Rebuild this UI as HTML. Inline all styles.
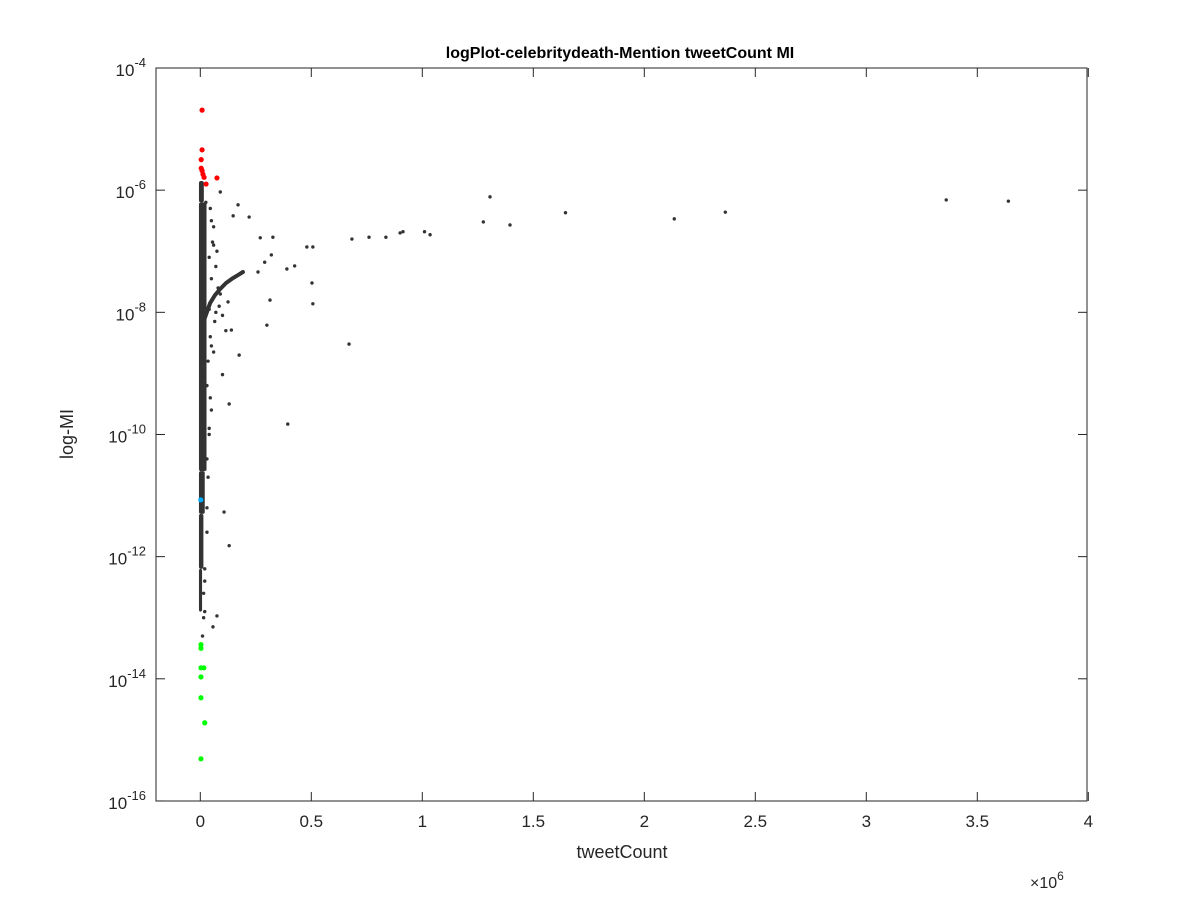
<!DOCTYPE html>
<html><head><meta charset="utf-8"><style>
body{margin:0;background:#fff}
svg{font-family:"Liberation Sans",sans-serif}
</style></head><body>
<svg width="1200" height="900" xmlns="http://www.w3.org/2000/svg">
<rect x="0" y="0" width="1200" height="900" fill="#fff"/>
<g id="plot"></g>
<text x="620" y="58" text-anchor="middle" font-size="16" font-weight="bold" fill="#000">logPlot-celebritydeath-Mention tweetCount MI</text>
<text x="622" y="858" text-anchor="middle" font-size="18" fill="#262626">tweetCount</text>
<text transform="translate(73,434) rotate(-90)" text-anchor="middle" font-size="18" fill="#262626">log-MI</text>
<text x="1030" y="888" font-size="16" fill="#262626">×10<tspan dy="-8" font-size="12">6</tspan></text>
</svg>
<script>
const xTicks=[0,0.5,1,1.5,2,2.5,3,3.5,4];
const xTickLabels=["0","0.5","1","1.5","2","2.5","3","3.5","4"];
const yTicks=[-4,-6,-8,-10,-12,-14,-16];
const redX=[0.008,0.008,0.004,0.004,0.008,0.012,0.017,0.075,0.026];
const redY=[-4.69,-5.34,-5.5,-5.64,-5.68,-5.74,-5.79,-5.8,-5.9];
const blueX=[0.002];
const blueY=[-11.07];
const greenX=[0.003,0.003,0.003,0.016,0.003,0.003,0.02,0.003];
const greenY=[-13.44,-13.5,-13.82,-13.82,-13.97,-14.31,-14.72,-15.31];
const blackX=[1.305,3.64,3.36,2.365,2.135,1.645,1.275,1.395,1.01,1.035,0.9,0.913,0.836,0.76,0.683,0.48,0.507,0.425,0.39,0.503,0.507,0.67,0.394,0.30,0.314,0.27,0.17,0.09,0.22,0.148,0.327,0.32,0.29,0.26,0.13,0.1,0.107,0.13,0.057,0.075,0.125,0.14,0.175,0.05,0.06,0.04,0.07,0.045,0.035,0.03,0.08,0.05,0.04,0.03,0.025,0.03,0.02,0.015,0.02,0.015,0.01,0.02,0.06,0.075,0.09,0.1,0.115,0.05,0.065,0.085,0.045,0.055,0.07,0.04,0.06,0.035,0.05,0.03,0.045,0.04];
const blackY=[-6.11,-6.18,-6.16,-6.36,-6.47,-6.37,-6.52,-6.57,-6.68,-6.73,-6.70,-6.68,-6.77,-6.77,-6.80,-6.93,-6.93,-7.24,-7.29,-7.52,-7.86,-8.52,-9.83,-8.21,-7.80,-6.78,-6.24,-6.03,-6.44,-6.42,-6.77,-7.06,-7.18,-7.34,-9.5,-9.02,-11.27,-11.82,-13.15,-12.97,-7.83,-8.29,-8.70,-6.5,-6.9,-7.1,-8.0,-8.4,-8.8,-9.2,-7.6,-9.6,-10.0,-10.4,-6.2,-11.6,-12.2,-12.6,-12.9,-13.0,-13.3,-12.4,-6.6,-7.0,-7.7,-8.05,-8.3,-8.55,-8.15,-7.9,-9.4,-6.85,-7.25,-9.9,-8.65,-10.7,-7.45,-11.2,-6.3,-7.95];
const arcX=[0.01,0.044,0.066,0.089,0.116,0.143,0.17,0.192];
const arcY=[-8.2,-7.85,-7.72,-7.62,-7.52,-7.45,-7.39,-7.34];
const bandTop=[-5.85,-6.2,-10.6,-11.3,-12.2];
const bandBottom=[-6.2,-10.6,-11.3,-12.2,-12.9];
const bandWidth=[0.022,0.034,0.026,0.02,0.014];

const L=156,R=1087,T=68,B=801;
const X=v=>200.3+v*222;
const Y=v=>T+(-4-v)*61.08;
const NS="http://www.w3.org/2000/svg";
const g=document.getElementById('plot');
function mk(t,a){const e=document.createElementNS(NS,t);for(const k in a)e.setAttribute(k,a[k]);g.appendChild(e);return e;}
for(let i=0;i<bandTop.length;i++){
 const e=mk('rect',{x:X(-0.006),y:Y(bandTop[i]),width:X(bandWidth[i])-X(0),height:Y(bandBottom[i])-Y(bandTop[i]),fill:'#333',rx:2});
 
 
}
const arc=mk('polyline',{points:arcX.map((x,i)=>X(x)+','+Y(arcY[i])).join(' '),fill:'none',stroke:'#333','stroke-width':4,'stroke-linecap':'round'});


function dots(xs,ys,col,r,name){for(let i=0;i<xs.length;i++){const e=mk('circle',{cx:X(xs[i]),cy:Y(ys[i]),r:r,fill:col});
 
 }}
dots(blackX,blackY,'#333',1.7,'point-black');
dots(redX,redY,'#ff0000',2.6,'point-red');
dots(greenX,greenY,'#00ff00',2.6,'point-green');
dots(blueX,blueY,'#00aaff',2.6,'point-blue');
const box=mk('rect',{x:L,y:T,width:R-L,height:B-T,fill:'none',stroke:'#262626','stroke-width':1});


xTicks.forEach((v,i)=>{const x=X(v);
 mk('line',{x1:x,y1:B,x2:x,y2:B-9,stroke:'#262626'});mk('line',{x1:x,y1:T,x2:x,y2:T+9,stroke:'#262626'});
 const t=mk('text',{x:x,y:B+26,'text-anchor':'middle','font-size':17,fill:'#262626'});t.textContent=xTickLabels[i];
 
 });
yTicks.forEach(v=>{const y=Y(v);
 mk('line',{x1:L,y1:y,x2:L+9,y2:y,stroke:'#262626'});mk('line',{x1:R,y1:y,x2:R-9,y2:y,stroke:'#262626'});
 const t=mk('text',{x:L-10,y:y+8,'text-anchor':'end','font-size':17,fill:'#262626'});
 t.innerHTML='10<tspan dy="-9" font-size="13">'+v+'</tspan>';
 
 });
</script>
</body></html>
